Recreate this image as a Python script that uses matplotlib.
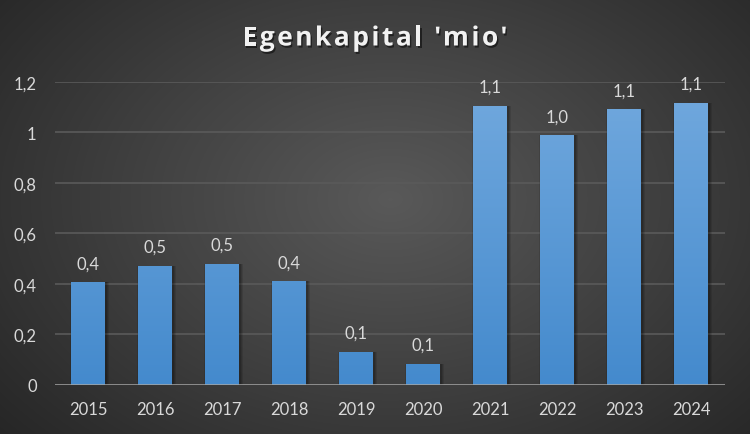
import numpy as np
import matplotlib
matplotlib.use("Agg")
import matplotlib.pyplot as plt
import matplotlib.patheffects as pe
from matplotlib.colors import LinearSegmentedColormap
from matplotlib.font_manager import FontProperties

years = ["2015", "2016", "2017", "2018", "2019", "2020", "2021", "2022", "2023", "2024"]
values = [0.405, 0.472, 0.480, 0.409, 0.129, 0.082, 1.105, 0.987, 1.090, 1.117]
ytick_vals = [0, 0.2, 0.4, 0.6, 0.8, 1.0, 1.2]
ytick_labels = ["0", "0,2", "0,4", "0,6", "0,8", "1", "1,2"]
title = "Egenkapital 'mio'"

plt.rcParams["font.family"] = ["Lato", "DejaVu Sans"]
text_col = "#d9d9d9"

fig = plt.figure(figsize=(7.5, 4.35), dpi=100)
W, H = 750, 435

# radial background
bg = fig.add_axes([0, 0, 1, 1], zorder=-10)
yy, xx = np.mgrid[0:H, 0:W]
r = np.sqrt(((xx - 390) / 520.0) ** 2 + ((yy - 200) / 360.0) ** 2)
r = np.clip(r, 0, 1)
bg_cmap = LinearSegmentedColormap.from_list("bg", ["#595959", "#404040", "#262626"])
bg.imshow(r, cmap=bg_cmap, aspect="auto", extent=[0, 1, 0, 1], origin="upper", vmin=0, vmax=1)
bg.axis("off")

ax = fig.add_axes([0.073, 0.1133, 0.8933, 0.6966])
ax.patch.set_alpha(0)
x = np.arange(len(years))

for ypos in ytick_vals[1:]:
    ax.axhline(ypos, color="#5a5a5a", lw=1.2, zorder=0)

# soft shadow behind bars
for k, a in [(0.07, 0.10), (0.045, 0.12), (0.025, 0.15)]:
    ax.bar(x + 0.02, values, width=0.5 + k, color="black", alpha=a, zorder=1, linewidth=0)

bars = ax.bar(x, values, width=0.5, color="#5a9ad8", zorder=2, linewidth=0)
bar_cmap = LinearSegmentedColormap.from_list("bar", ["#448acd", "#72a9de"])
grad = np.linspace(0, 1, 256).reshape(-1, 1)
for b in bars:
    bx = b.get_x()
    im = ax.imshow(grad, cmap=bar_cmap, origin="lower", aspect="auto",
                   extent=[bx, bx + b.get_width(), 0, 1.2], zorder=3)
    im.set_clip_path(b)

ax.axhline(0, color="#a6a6a6", lw=1.8, zorder=4)

for xi, v in zip(x, values):
    ax.annotate(f"{v:.1f}".replace(".", ","), (xi, v), xytext=(0, 8),
                textcoords="offset points", ha="center", va="bottom",
                color=text_col, fontsize=12)

ax.set_xlim(-0.5, len(years) - 0.5)
ax.set_ylim(0, 1.2)
ax.set_xticks(x)
ax.set_xticklabels(years)
ax.set_yticks(ytick_vals)
ax.set_yticklabels(ytick_labels)
ax.tick_params(axis="both", length=0, colors=text_col, labelsize=12)
ax.tick_params(axis="x", pad=12)
ax.tick_params(axis="y", pad=13)
for s in ax.spines.values():
    s.set_visible(False)

# title with extra letter spacing
tprop = FontProperties(family=["Open Sans", "DejaVu Sans"], weight="bold", size=19)
renderer = fig.canvas.get_renderer()
def tw(s):
    return renderer.get_text_width_height_descent(s, tprop, ismath=False)[0]
spacing = 2.5
total = tw(title) + spacing * (len(title) - 1)
x0 = 375 - total / 2
shadow = [pe.withSimplePatchShadow(offset=(1, -1.5), shadow_rgbFace="black", alpha=0.5)]
for i, ch in enumerate(title):
    if ch == " ":
        continue
    left = tw(title[:i + 1]) - tw(ch) + spacing * i
    fig.text((x0 + left) / W, 1 - 46.5 / H, ch, ha="left", va="baseline", fontproperties=tprop,
             color="#f2f2f2", path_effects=shadow)

fig.savefig("out.png", dpi=100)
